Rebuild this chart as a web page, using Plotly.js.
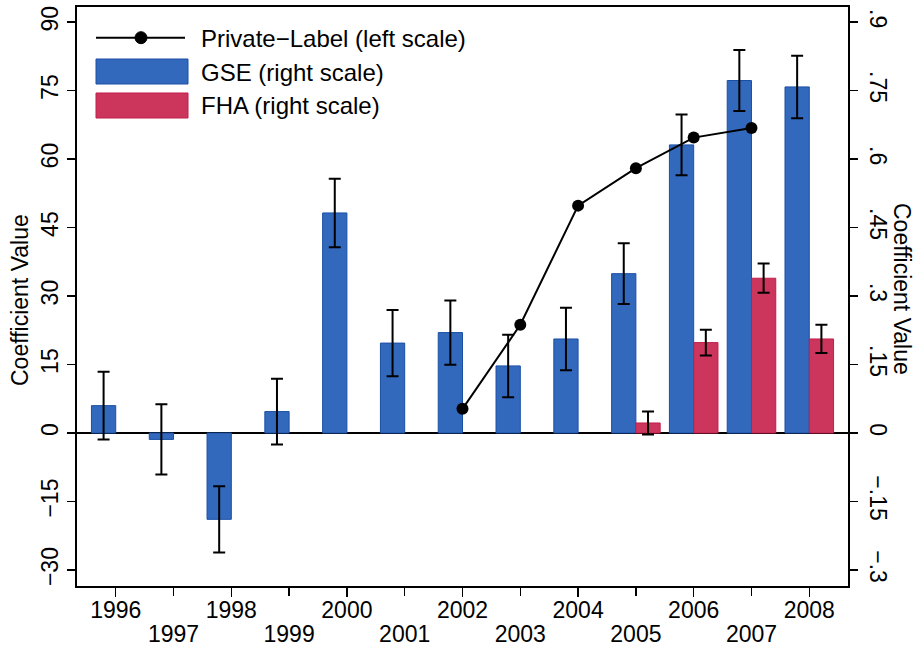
<!DOCTYPE html>
<html>
<head>
<meta charset="utf-8">
<script src="https://cdn.plot.ly/plotly-3.0.1.min.js"></script>
<style>html,body{margin:0;padding:0;background:#fff;}#chart{width:915px;height:646px;}</style>
</head>
<body>
<div id="chart"></div>
<script>
// ---- data ----
const years = [1996, 1997, 1998, 1999, 2000, 2001, 2002, 2003, 2004, 2005, 2006, 2007, 2008];
const evenYears = [1996, 1998, 2000, 2002, 2004, 2006, 2008];
const oddYears = [1997, 1999, 2001, 2003, 2005, 2007];
const evenLabels = ['1996', '1998', '2000', '2002', '2004', '2006', '2008'];
const oddLabels = ['1997', '1999', '2001', '2003', '2005', '2007'];
// GSE coefficients (right scale) and half-widths of the confidence bars
const gse    = [0.060, -0.014, -0.189, 0.047, 0.482, 0.197, 0.220, 0.147, 0.206, 0.349, 0.631, 0.772, 0.758];
const gseErr = [0.074, 0.077, 0.0725, 0.072, 0.075, 0.0725, 0.0705, 0.0685, 0.0685, 0.0665, 0.0665, 0.067, 0.0685];
// FHA coefficients (right scale)
const fha    = [null, null, null, null, null, null, null, null, null, 0.022, 0.198, 0.339, 0.206];
const fhaErr = [null, null, null, null, null, null, null, null, null, 0.025, 0.028, 0.032, 0.031];
// Private-label coefficients (left scale)
const privateLabel = [null, null, null, null, null, null, 5.3, 23.7, 49.8, 58.0, 64.7, 66.8, null];
// axis ticks
const leftTicks = [-30, -15, 0, 15, 30, 45, 60, 75, 90];
const rightTicks = [-0.3, -0.15, 0, 0.15, 0.3, 0.45, 0.6, 0.75, 0.9];
const rightTickText = ['\u2212.3', '\u2212.15', '0', '.15', '.3', '.45', '.6', '.75', '.9'];

// ---- styling ----
const FONT = 'Liberation Sans, Arial, Helvetica, sans-serif';
const FS = 23;
const LFS = 24;
const gseFill = '#3269bc', gseLine = '#1b4fa6';
const fhaFill = '#cd365c', fhaLine = '#c11d49';
const M = {l: 77, r: 67, t: 7, b: 60};
const PW = 915 - M.l - M.r, PH = 646 - M.t - M.b;
const px = v => (v - M.l) / PW;
const py = v => 1 - (v - M.t) / PH;
const leftRange = [-33.5, 93.3];
const rightRange = [leftRange[0] / 100, leftRange[1] / 100];
const xRange = [1995.33, 2008.67];
const barW = 0.42;

const errStyle = {type: 'data', visible: true, color: '#000', thickness: 2, width: 6};

const traces = [
  {
    type: 'bar', name: 'GSE (right scale)', x: years, y: gse,
    width: barW, offset: -barW,
    marker: {color: gseFill, line: {color: gseLine, width: 1}},
    error_y: Object.assign({array: gseErr}, errStyle),
    xaxis: 'x', yaxis: 'y', showlegend: false, hoverinfo: 'skip'
  },
  {
    type: 'bar', name: 'FHA (right scale)', x: years, y: fha,
    width: barW, offset: 0,
    marker: {color: fhaFill, line: {color: fhaLine, width: 1}},
    error_y: Object.assign({array: fhaErr}, errStyle),
    xaxis: 'x', yaxis: 'y', showlegend: false, hoverinfo: 'skip'
  },
  {
    type: 'scatter', mode: 'lines+markers', name: 'Private\u2212Label (left scale)',
    x: years, y: privateLabel,
    line: {color: '#000', width: 2}, marker: {color: '#000', size: 12},
    xaxis: 'x', yaxis: 'y2', showlegend: false, hoverinfo: 'skip', cliponaxis: false
  },
  // empty helper trace so the second (odd-year label) x axis is laid out
  {type: 'scatter', mode: 'markers', x: [], y: [], xaxis: 'x2', yaxis: 'y', showlegend: false, hoverinfo: 'skip'}
];

const axisCommon = {
  showgrid: false, showline: true, linecolor: '#000', linewidth: 2,
  ticks: 'outside', ticklen: 8, tickwidth: 1.5, tickcolor: '#000',
  tickfont: {family: FONT, size: FS, color: '#000'}
};

const layout = {
  width: 915, height: 646,
  margin: M,
  paper_bgcolor: '#fff', plot_bgcolor: '#fff',
  font: {family: FONT, size: FS, color: '#000'},
  barmode: 'overlay',
  showlegend: false,
  xaxis: Object.assign({}, axisCommon, {
    range: xRange, tickmode: 'array', tickvals: evenYears, ticktext: evenLabels,
    mirror: true, zeroline: false, ticklen: 9, ticklabelstandoff: -7
  }),
  xaxis2: Object.assign({}, axisCommon, {
    overlaying: 'x', anchor: 'y', side: 'bottom', showline: false,
    range: xRange, tickmode: 'array', tickvals: oddYears, ticktext: oddLabels,
    zeroline: false, ticklen: 9, ticklabelstandoff: 18
  }),
  yaxis: Object.assign({}, axisCommon, {
    side: 'right', range: rightRange, tickmode: 'array', tickvals: rightTicks, ticktext: rightTickText,
    tickangle: 90, zeroline: true, zerolinecolor: '#000', zerolinewidth: 2, ticklabelstandoff: 3
  }),
  yaxis2: Object.assign({}, axisCommon, {
    side: 'left', overlaying: 'y', range: leftRange, tickmode: 'array', tickvals: leftTicks,
    tickangle: -90, zeroline: false
  }),
  shapes: [
    {type: 'line', xref: 'paper', yref: 'paper', x0: px(96), x1: px(185), y0: py(37.7), y1: py(37.7), line: {color: '#000', width: 2}},
    {type: 'circle', xref: 'paper', yref: 'paper', x0: px(135), x1: px(147), y0: py(31.7), y1: py(43.7), fillcolor: '#000', line: {color: '#000', width: 1}},
    {type: 'rect', xref: 'paper', yref: 'paper', x0: px(96), x1: px(188), y0: py(59), y1: py(84), fillcolor: gseFill, line: {color: gseLine, width: 1}},
    {type: 'rect', xref: 'paper', yref: 'paper', x0: px(96), x1: px(188), y0: py(93), y1: py(118), fillcolor: fhaFill, line: {color: fhaLine, width: 1}}
  ],
  annotations: [
    {xref: 'paper', yref: 'paper', x: px(199), y: py(38), xanchor: 'left', yanchor: 'middle', showarrow: false, text: 'Private\u2212Label (left scale)', font: {family: FONT, size: LFS}},
    {xref: 'paper', yref: 'paper', x: px(199), y: py(72), xanchor: 'left', yanchor: 'middle', showarrow: false, text: 'GSE (right scale)', font: {family: FONT, size: LFS}},
    {xref: 'paper', yref: 'paper', x: px(199), y: py(106), xanchor: 'left', yanchor: 'middle', showarrow: false, text: 'FHA (right scale)', font: {family: FONT, size: LFS}},
    {xref: 'paper', yref: 'paper', x: px(20), y: py(300), xanchor: 'center', yanchor: 'middle', showarrow: false, textangle: -90, text: 'Coefficient Value', font: {family: FONT, size: FS}},
    {xref: 'paper', yref: 'paper', x: px(902), y: py(289), xanchor: 'center', yanchor: 'middle', showarrow: false, textangle: 90, text: 'Coefficient Value', font: {family: FONT, size: FS}}
  ]
};

Plotly.newPlot('chart', traces, layout, {displayModeBar: false, staticPlot: true});
</script>
</body>
</html>
